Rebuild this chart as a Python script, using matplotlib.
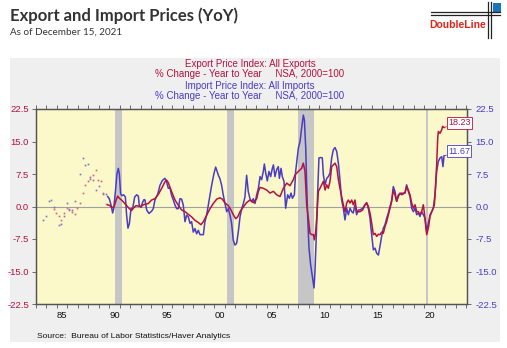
import matplotlib
matplotlib.use("Agg")
import matplotlib.pyplot as plt
from matplotlib.patches import Rectangle
from matplotlib.lines import Line2D

plt.rcParams["font.family"] = ["Liberation Sans", "DejaVu Sans"]

RED = "#B5123E"
BLUE = "#4A3CC4"

# quarterly points before the monthly series starts
exp_q_years = [1984.68, 1984.93, 1985.16, 1985.41, 1985.67, 1985.92, 1986.17, 1986.43, 1986.68,
               1986.93, 1987.16, 1987.44, 1987.67, 1987.92, 1988.17, 1988.43, 1988.71, 1988.90,
               1989.16, 1989.41, 1989.67]
exp_q_vals = [-0.5, -1.5, -2.2, -3.2, -1.6, -0.4, -0.7, -1.3, -1.7, -0.4, 0.8, 3.2, 5.0, 5.9,
              6.4, 7.2, 8.5, 6.2, 5.8, 3.2, 0.6]
imp_q_years = [1983.63, 1983.95, 1984.20, 1984.43, 1984.68, 1985.16, 1985.41, 1985.67, 1985.92,
               1986.17, 1986.43, 1986.68, 1987.16, 1987.44, 1987.67, 1987.92, 1988.17, 1988.43,
               1988.71, 1988.97, 1989.41, 1989.67]
imp_q_vals = [-3.0, -2.3, 1.2, 1.4, 0.0, -4.2, -4.0, -2.2, 0.8, -0.5, -0.9, 1.2, 7.6, 11.1,
              9.5, 9.8, 6.8, 6.2, 3.8, 4.7, 3.0, 3.0]

# Export Price Index: All Exports, % change y/y
exp_years = [1989.83, 1990.05, 1990.24, 1990.46, 1990.62, 1990.78, 1990.94, 1991.19, 1991.41,
             1991.63, 1991.89, 1992.11, 1992.27, 1992.52, 1992.75, 1993.00, 1993.22, 1993.38,
             1993.70, 1994.01, 1994.33, 1994.65, 1994.97, 1995.28, 1995.44, 1995.60, 1995.92,
             1996.24, 1996.55, 1996.87, 1997.19, 1997.51, 1997.82, 1998.14, 1998.46, 1998.71,
             1998.94, 1999.25, 1999.57, 1999.89, 2000.21, 2000.52, 2000.75, 2001.00, 2001.32,
             2001.57, 2001.79, 2002.02, 2002.21, 2002.43, 2002.75, 2003.06, 2003.38, 2003.70,
             2004.02, 2004.18, 2004.34, 2004.65, 2004.97, 2005.29, 2005.61, 2005.92, 2006.24,
             2006.56, 2006.88, 2007.19, 2007.51, 2007.67, 2007.99, 2008.30, 2008.46, 2008.62,
             2008.78, 2008.94, 2009.10, 2009.26, 2009.42, 2009.51, 2009.64, 2009.76, 2009.89,
             2010.05, 2010.21, 2010.37, 2010.53, 2010.69, 2010.84, 2011.00, 2011.16, 2011.32,
             2011.48, 2011.64, 2011.80, 2011.95, 2012.11, 2012.27, 2012.43, 2012.59, 2012.75,
             2012.91, 2013.07, 2013.22, 2013.38, 2013.54, 2013.70, 2013.86, 2014.11, 2014.34,
             2014.49, 2014.65, 2014.81, 2014.97, 2015.13, 2015.29, 2015.45, 2015.61, 2015.76,
             2015.92, 2016.08, 2016.24, 2016.40, 2016.56, 2016.72, 2016.88, 2017.03, 2017.19,
             2017.35, 2017.51, 2017.67, 2017.83, 2017.99, 2018.15, 2018.30, 2018.46, 2018.62,
             2018.78, 2018.94, 2019.10, 2019.26, 2019.42, 2019.57, 2019.73, 2019.89, 2019.99,
             2020.11, 2020.21, 2020.37, 2020.53, 2020.69, 2020.84, 2020.94, 2021.03, 2021.16,
             2021.26, 2021.32, 2021.48, 2021.64, 2021.73, 2021.86]
exp_vals = [0.4, 0.2, -0.3, 0.1, 1.4, 2.4, 1.9, 1.4, 0.8,
            0.2, -0.5, -0.9, -0.4, 0.2, 0.1, 0.0, 0.4, 0.5,
            0.7, 1.5, 1.8, 2.8, 4.2, 5.7, 6.1, 5.5, 3.4,
            1.5, 0.3, -0.8, -1.2, -1.8, -2.4, -3.2, -3.7, -4.2,
            -3.5, -2.0, -0.5, 0.7, 1.7, 2.0, 1.7, 0.8, 0.2,
            -0.8, -1.9, -2.8, -2.4, -1.2, -0.1, 0.9, 1.5, 0.9,
            1.8, 3.5, 4.4, 4.2, 3.8, 3.1, 3.5, 2.7, 2.3,
            4.2, 5.4, 4.8, 6.2, 7.3, 8.1, 8.8, 10.0, 8.1,
            0.4, -2.7, -6.2, -6.5, -6.5, -7.7, -5.8, -1.9, 3.5,
            4.2, 5.0, 5.8, 3.8, 5.0, 4.2, 5.8, 9.2, 9.6,
            10.0, 9.2, 6.2, 4.2, 2.3, 0.4, -1.2, 0.8, 1.5,
            0.8, 1.5, 0.4, 1.5, -1.2, -1.2, -1.2, -0.8, 0.4,
            0.9, 0.0, -1.5, -3.8, -6.5, -6.2, -6.9, -6.4, -6.5,
            -5.9, -6.2, -4.6, -3.5, -1.9, -0.4, 1.2, 3.8, 2.7,
            1.2, 2.3, 3.1, 2.7, 3.1, 3.1, 4.6, 3.8, 2.7,
            0.8, -0.4, 0.4, -1.2, -1.2, -1.9, -1.2, 0.4, -1.5,
            -4.2, -6.5, -5.0, -2.3, -1.2, -0.4, 0.4, 3.5, 9.6,
            15.8, 17.3, 16.9, 17.7, 18.5, 18.23]

# Import Price Index: All Imports, % change y/y
imp_years = [1989.83, 1989.98, 1990.14, 1990.30, 1990.40, 1990.56, 1990.71, 1990.84, 1990.94,
             1991.06, 1991.19, 1991.35, 1991.51, 1991.63, 1991.76, 1991.89, 1992.05, 1992.21,
             1992.40, 1992.59, 1992.75, 1992.84, 1993.00, 1993.16, 1993.29, 1993.38, 1993.54,
             1993.76, 1994.01, 1994.17, 1994.33, 1994.59, 1994.81, 1995.03, 1995.28, 1995.44,
             1995.60, 1995.76, 1995.92, 1996.08, 1996.24, 1996.40, 1996.55, 1996.71, 1996.87,
             1997.03, 1997.19, 1997.35, 1997.51, 1997.67, 1997.82, 1997.98, 1998.14, 1998.30,
             1998.46, 1998.62, 1998.94, 1999.09, 1999.25, 1999.41, 1999.57, 1999.73, 1999.95,
             2000.11, 2000.21, 2000.37, 2000.52, 2000.68, 2000.84, 2001.00, 2001.16, 2001.32,
             2001.48, 2001.63, 2001.79, 2001.95, 2002.11, 2002.27, 2002.43, 2002.59, 2002.75,
             2002.90, 2003.06, 2003.22, 2003.38, 2003.54, 2003.70, 2003.86, 2004.02, 2004.18,
             2004.34, 2004.49, 2004.65, 2004.75, 2004.88, 2005.03, 2005.19, 2005.35, 2005.51,
             2005.61, 2005.76, 2005.92, 2006.08, 2006.18, 2006.34, 2006.46, 2006.62, 2006.78,
             2006.88, 2006.97, 2007.13, 2007.29, 2007.42, 2007.61, 2007.73, 2007.86, 2007.99,
             2008.15, 2008.30, 2008.46, 2008.56, 2008.69, 2008.78, 2008.88, 2009.00, 2009.16,
             2009.32, 2009.48, 2009.57, 2009.70, 2009.83, 2009.95, 2010.11, 2010.27, 2010.37,
             2010.53, 2010.69, 2010.84, 2011.00, 2011.16, 2011.32, 2011.48, 2011.64, 2011.80,
             2011.95, 2012.11, 2012.27, 2012.43, 2012.59, 2012.75, 2012.91, 2013.07, 2013.22,
             2013.38, 2013.54, 2013.70, 2013.86, 2014.11, 2014.34, 2014.49, 2014.65, 2014.81,
             2014.97, 2015.13, 2015.29, 2015.45, 2015.61, 2015.76, 2015.92, 2016.08, 2016.24,
             2016.40, 2016.56, 2016.72, 2016.88, 2017.03, 2017.19, 2017.35, 2017.51, 2017.67,
             2017.83, 2017.99, 2018.15, 2018.30, 2018.46, 2018.62, 2018.78, 2018.94, 2019.10,
             2019.26, 2019.42, 2019.57, 2019.73, 2019.89, 2020.05, 2020.21, 2020.37, 2020.53,
             2020.69, 2020.84, 2021.00, 2021.16, 2021.32, 2021.48, 2021.64, 2021.76, 2021.86]
imp_vals = [2.3, 1.8, 0.4, -1.5, -0.5, 3.3, 7.5, 8.8, 7.5,
            2.9, 2.5, 2.7, 2.2, -2.0, -5.0, -4.0, -0.5, -0.4,
            2.2, 2.7, 2.4, 0.2, -0.2, 1.0, 1.6, 1.5, -0.8,
            -1.6, -1.1, -0.5, 1.5, 2.8, 4.9, 6.0, 6.5, 5.7,
            4.2, 4.3, 2.5, 1.5, 0.3, -0.5, -0.5, 1.8, 1.7,
            0.3, -3.5, -2.0, -2.4, -3.9, -3.5, -5.9, -5.1, -6.3,
            -5.5, -6.5, -6.5, -3.5, -2.0, 0.3, 2.6, 4.9, 7.6,
            9.1, 8.4, 7.2, 6.4, 4.9, 2.6, 0.7, -1.2, -0.5,
            -2.0, -3.9, -7.8, -8.9, -8.5, -5.8, -2.4, -0.5, 0.7,
            2.2, 7.2, 3.4, 1.8, 1.1, 1.8, 0.7, 2.7, 4.2,
            6.9, 6.2, 8.1, 9.8, 7.7, 5.9, 8.1, 6.9, 8.8,
            9.6, 6.9, 8.5, 9.2, 6.5, 8.8, 6.9, 5.8, -0.4,
            1.2, 2.7, 1.9, 3.1, 1.9, 2.7, 8.1, 10.8, 13.5,
            15.0, 18.1, 21.1, 20.0, 13.5, 5.0, -2.7, -9.6, -13.5,
            -16.1, -18.8, -15.0, -6.5, 3.5, 11.2, 11.3, 11.2, 7.3,
            5.0, 6.5, 6.9, 7.7, 11.2, 13.1, 13.6, 12.7, 10.0,
            6.2, 1.5, -0.4, -3.1, -0.4, -1.9, -0.4, -1.2, -1.5,
            0.4, -1.9, -0.8, -0.8, -0.4, 0.4, 0.8, -0.4, -2.7,
            -6.5, -10.0, -9.6, -10.8, -11.2, -9.2, -6.9, -5.0, -4.2,
            -2.7, -1.5, 0.0, 1.5, 4.6, 3.5, 1.2, 2.7, 2.9,
            3.1, 2.9, 3.3, 5.0, 3.5, 2.3, -0.4, -1.2, -0.4,
            -1.9, -1.5, -2.3, -1.2, -1.9, -2.7, -5.8, -3.8, -1.9,
            -1.2, -0.4, 2.7, 8.1, 10.4, 11.2, 11.5, 9.2, 11.67]

# NBER recessions
recessions = [(1990.55, 1991.2), (2001.2, 2001.88), (2007.95, 2009.45), (2020.12, 2020.3)]
yticks = [-22.5, -15.0, -7.5, 0.0, 7.5, 15.0, 22.5]
year_labels = ["85", "90", "95", "00", "05", "10", "15", "20"]
label_years = [1985, 1990, 1995, 2000, 2005, 2010, 2015, 2020]

fig = plt.figure(figsize=(5.07, 3.48), dpi=100)
W, H = 507.0, 348.0

# grey panel behind the chart
fig.patches.append(Rectangle((10 / W, 1 - 342 / H), 490 / W, 284 / H, transform=fig.transFigure,
                             facecolor="#EFEFEF", edgecolor="none", zorder=-5))

fig.text(10 / W, 1 - 16 / H, "Export and Import Prices (YoY)", fontsize=12, fontweight="bold",
         family="Lato", color="#333333", va="center")
fig.text(10 / W, 1 - 32 / H, "As of December 15, 2021", fontsize=7.1, family="Lato",
         color="#333333", va="center")

# logo
for yy in (11.5, 15.0):
    fig.add_artist(Line2D([431 / W, 500 / W], [1 - yy / H, 1 - yy / H], color="#222222", lw=0.9,
                          transform=fig.transFigure))
for xx in (487.5, 490.8):
    fig.add_artist(Line2D([xx / W, xx / W], [1 - 2 / H, 1 - 38 / H], color="#222222", lw=0.9,
                          transform=fig.transFigure))
fig.patches.append(Rectangle((492.5 / W, 1 - 12 / H), 8 / W, 9 / H, transform=fig.transFigure,
                             facecolor="#1B75BB", edgecolor="none"))
fig.text(458 / W, 1 - 25 / H, "DoubleLine", fontsize=7.5, fontweight="bold", color="#E2231A",
         ha="center", va="center")

# series headers
hdr = dict(fontsize=7.0, ha="center", va="center")
fig.text(250 / W, 1 - 64 / H, "Export Price Index: All Exports", color=RED, **hdr)
fig.text(250 / W, 1 - 74 / H, "% Change - Year to Year     NSA, 2000=100", color=RED, **hdr)
fig.text(250 / W, 1 - 86 / H, "Import Price Index: All Imports", color=BLUE, **hdr)
fig.text(250 / W, 1 - 96 / H, "% Change - Year to Year     NSA, 2000=100", color=BLUE, **hdr)
fig.text(37 / W, 1 - 337 / H, "Source:  Bureau of Labor Statistics/Haver Analytics", fontsize=6.1,
         color="#111111", va="center")

ax = fig.add_axes([36 / W, 1 - 304 / H, 431 / W, 195 / H])
ax.set_facecolor("#FBF8C9")
ax.set_xlim(1983.0, 2024.05)
ax.set_ylim(-22.5, 22.5)

for a, b in recessions:
    ax.axvspan(a, b, color="#C6C6C6", lw=0, zorder=1)
ax.axhline(0, color="#A0A0A0", lw=0.8, zorder=1)

ax.plot(exp_q_years, exp_q_vals, ls="none", marker="s", ms=1.2, color="#D86080", mew=0, zorder=3)
ax.plot(imp_q_years, imp_q_vals, ls="none", marker="s", ms=1.2, color="#7A70D0", mew=0, zorder=3)
ax.plot(imp_years, imp_vals, color=BLUE, lw=1.1, zorder=4)
ax.plot(exp_years, exp_vals, color=RED, lw=1.1, zorder=5)

ax.set_yticks(yticks)
ax.set_yticklabels([f"{v:.1f}" for v in yticks], color=RED, fontsize=6.8)
ax.tick_params(axis="y", length=3, width=0.6, color="#555555", pad=2)
ax2 = ax.twinx()
ax2.set_ylim(-22.5, 22.5)
ax2.set_yticks(yticks)
ax2.set_yticklabels([f"{v:.1f}" for v in yticks], color=BLUE, fontsize=6.8)
ax2.tick_params(axis="y", length=3, width=0.6, color="#555555", pad=3)

# last-value tags
for yrs, vals, col, ty in ((exp_years, exp_vals, RED, 19.3), (imp_years, imp_vals, BLUE, 12.8)):
    ax2.annotate(f"{vals[-1]:.2f}", xy=(yrs[-1], vals[-1]), xycoords=ax.transData,
                 xytext=(2022.25, ty), textcoords=ax.transData, fontsize=6.5,
                 color=col, ha="left", va="center", annotation_clip=False, zorder=6,
                 bbox=dict(boxstyle="square,pad=0.15", fc="white", ec=col, lw=0.6),
                 arrowprops=dict(arrowstyle="-", color=col, lw=0.6, shrinkA=0, shrinkB=0))

ax.set_xticks([y + 0.5 for y in label_years])
ax.set_xticklabels(year_labels, fontsize=6.8, color="#111111")
ax.set_xticks(range(1983, 2025), minor=True)
ax.tick_params(axis="x", which="major", length=0, pad=5)
ax.tick_params(axis="x", which="minor", length=3, width=0.6, color="#555555", top=True, direction="out")

for a in (ax, ax2):
    for s in a.spines.values():
        s.set_color("#555555")
        s.set_linewidth(0.9)

fig.savefig("out.png", dpi=100, facecolor="white")
